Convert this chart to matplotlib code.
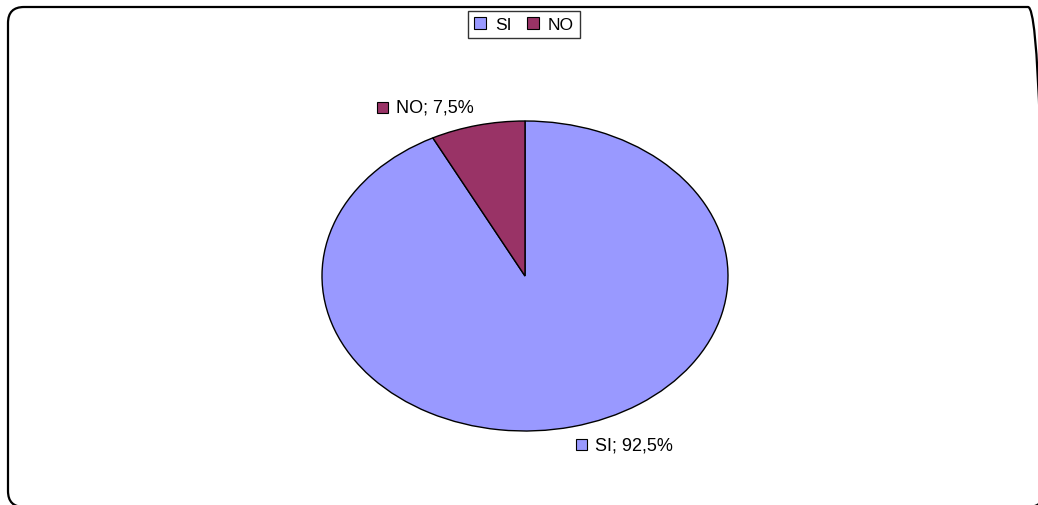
import numpy as np
import matplotlib
matplotlib.use("Agg")
import matplotlib.pyplot as plt
from matplotlib.patches import Patch, Rectangle, FancyBboxPatch
from matplotlib.offsetbox import DrawingArea, TextArea, HPacker, AnnotationBbox
from matplotlib.transforms import IdentityTransform

plt.rcParams['font.family'] = ['Liberation Sans', 'DejaVu Sans']

# data
categories = ['SI', 'NO']
values = [92.5, 7.5]
colors = ['#9999FF', '#993366']
label_texts = ['SI; 92,5%', 'NO; 7,5%']

W, H = 1038, 506
fig = plt.figure(figsize=(W / 100, H / 100), dpi=100)

# pie is drawn stretched (ellipse), like the original
ax = fig.add_axes([322 / W, 74 / H, 406 / W, 310 / H])
wedges, _ = ax.pie(values, colors=colors, startangle=90, counterclock=False,
                   wedgeprops=dict(edgecolor='black', linewidth=1))
ax.set_aspect('auto')
ax.set_xlim(-1, 1)
ax.set_ylim(-1, 1)

# data labels with a small colour key in front
fs = 13
for w, txt, col in zip(wedges, label_texts, colors):
    mid = np.deg2rad((w.theta1 + w.theta2) / 2)
    x, y = 2.1 * np.cos(mid), 1.12 * np.sin(mid)
    da = DrawingArea(8, 8, 0, 0)
    da.add_artist(Rectangle((0, 0), 8, 8, facecolor=col, edgecolor='black', linewidth=0.8))
    ta = TextArea(txt, textprops=dict(fontsize=fs, color='black'))
    box = HPacker(children=[da, ta], align='center', pad=0, sep=6)
    ab = AnnotationBbox(box, (x, y), xycoords='data', frameon=False,
                        box_alignment=(0.5, 0.5), annotation_clip=False)
    ax.add_artist(ab)

# legend at top
handles = [Patch(facecolor=c, edgecolor='black', linewidth=0.8) for c in colors]
leg = fig.legend(handles, categories, loc='upper center', ncol=2,
                 bbox_to_anchor=(524 / W, 1 - 12 / H), fontsize=12.5,
                 frameon=True, fancybox=False, edgecolor='black',
                 handlelength=0.7, handleheight=0.7, handletextpad=0.5,
                 columnspacing=0.9, borderpad=0.35, borderaxespad=0)
leg.get_frame().set_linewidth(1.0)

# rounded outer border (runs off the right/bottom edge)
border = FancyBboxPatch((8, -2), 1044 - 8, 498 + 2,
                        boxstyle='round,pad=0,rounding_size=16',
                        transform=IdentityTransform(), facecolor='none',
                        edgecolor='black', linewidth=1.6)
fig.add_artist(border)

fig.savefig('out.png', dpi=100)
